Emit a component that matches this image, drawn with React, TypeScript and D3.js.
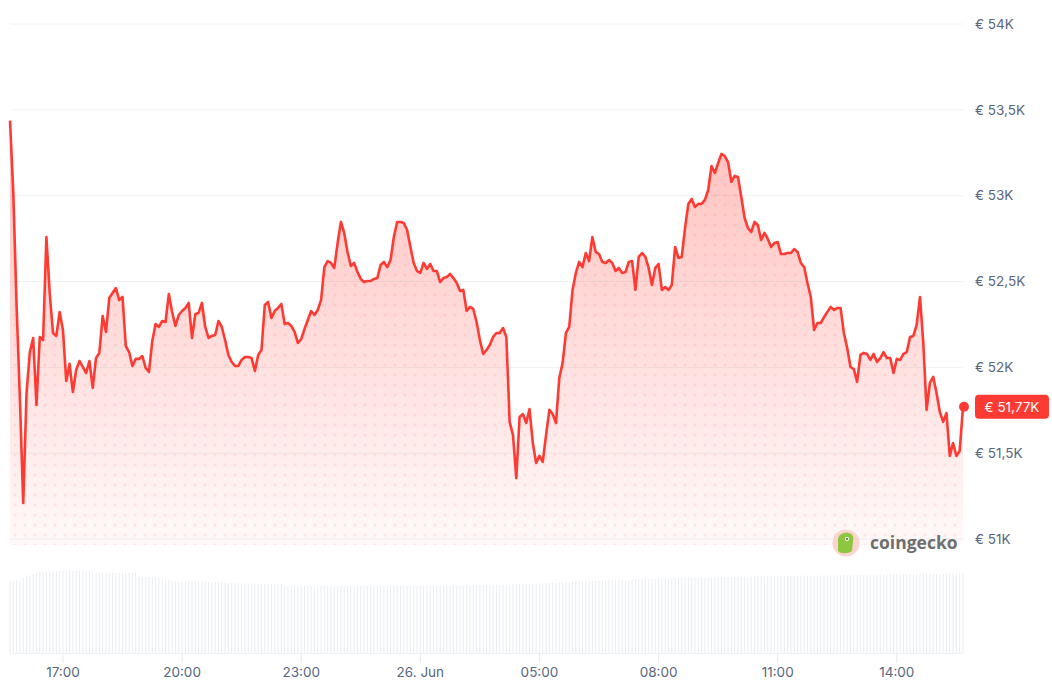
import * as d3 from "d3";

const W = 1052;
const H = 687;

// 5-minute prices (EUR), 25 Jun 15:40 -> 26 Jun 15:40
const prices = [
  53437, 53016, 52352, 51810, 51210, 51851, 52089, 52171, 51781, 52177, 52159, 52759, 52433, 52200, 52183, 52322,
  52218, 51921, 52020, 51856, 51985, 52037, 52002, 51967, 52037, 51880, 52054, 52084, 52299, 52206, 52404, 52433,
  52462, 52392, 52410, 52124, 52089, 52008, 52049, 52049, 52066, 51996, 51973, 52153, 52252, 52235, 52270,
  52264, 52427, 52322, 52241, 52305, 52328, 52346, 52375, 52171, 52311, 52317, 52375, 52235, 52171, 52183, 52188,
  52270, 52235, 52159, 52072, 52031, 52008, 52008, 52043, 52060, 52060, 52054, 51979, 52072, 52101, 52363, 52381,
  52287, 52328, 52346, 52369, 52252, 52258, 52241, 52206, 52142, 52165, 52223, 52276, 52328, 52305, 52334, 52392, 52584,
  52619, 52608, 52579, 52724, 52847, 52783, 52672, 52590, 52608, 52555, 52515, 52497, 52503, 52503, 52515, 52520,
  52596, 52614, 52584, 52625, 52759, 52847, 52847, 52841, 52800, 52701, 52608, 52561, 52550, 52608, 52573, 52602,
  52561, 52561, 52497, 52520, 52526, 52544, 52520, 52491, 52445, 52451, 52328, 52352, 52340, 52264, 52159, 52078,
  52101, 52130, 52177, 52200, 52200, 52229, 52177, 51682, 51606, 51355, 51711, 51728, 51676, 51757, 51559, 51443,
  51484, 51449, 51606, 51752, 51728, 51676, 51938, 52025, 52200, 52235, 52451, 52550, 52614, 52584, 52666, 52619,
  52759, 52672, 52660, 52614, 52608, 52625, 52608, 52561, 52579, 52550, 52555, 52614, 52619, 52451, 52643, 52666,
  52643, 52579, 52480, 52579, 52602, 52451, 52468, 52451, 52480, 52701, 52637, 52643, 52812, 52952, 52981, 52934,
  52952, 52952, 52975, 53033, 53173, 53132, 53190, 53243, 53231, 53196, 53080, 53115, 53109, 52992, 52870, 52812,
  52788, 52847, 52829, 52742, 52783, 52748, 52701, 52724, 52730, 52660, 52660, 52666, 52666, 52689, 52672,
  52608, 52584, 52491, 52410, 52218, 52258, 52258, 52293, 52322, 52352, 52334, 52346, 52346, 52200, 52113, 52002,
  51990, 51915, 52072, 52084, 52078, 52043, 52078, 52031, 52054, 52089, 52054, 52054, 51967, 52049, 52043, 52078,
  52089, 52177, 52183, 52247, 52410, 52142, 51752, 51909, 51944, 51851, 51740, 51682, 51734, 51484, 51559, 51484,
  51513, 51770,
];

// 24h volume (EUR bn) per 5-minute step
const volumes = [
  25.5, 25.5, 25.6, 25.6, 26.4, 27.0, 27.5, 28.0, 28.3, 28.5, 28.7, 28.8, 28.9, 29.0, 29.0, 29.0, 29.1, 29.0, 29.1, 29.0,
  29.0, 29.1, 29.0, 28.9, 29.0, 28.9, 28.4, 28.3, 28.4, 28.3, 28.3, 28.4, 28.3, 28.2, 28.3, 28.3, 28.4, 28.3, 28.2, 27.0,
  26.9, 26.8, 26.8, 26.7, 26.7, 26.5, 26.3, 26.0, 25.7, 25.4, 25.3, 25.1, 25.1, 25.2, 25.1, 25.1, 25.0, 25.1, 25.1, 25.2,
  25.1, 25.1, 25.0, 25.1, 25.1, 25.0, 24.7, 24.7, 24.6, 24.7, 24.6, 24.6, 24.5, 24.6, 24.5, 24.5, 24.4, 24.5, 24.4, 24.4,
  24.4, 24.3, 24.4, 23.7, 23.7, 23.6, 23.7, 23.6, 23.6, 23.7, 23.6, 23.6, 23.5, 23.6, 23.6, 23.5, 23.6, 23.6, 23.5, 23.6,
  23.6, 23.5, 23.6, 23.6, 23.5, 23.6, 23.6, 23.5, 23.6, 23.6, 23.5, 23.6, 23.6, 23.5, 23.6, 23.6, 23.7, 23.6, 23.7, 23.7,
  23.7, 23.6, 23.7, 23.7, 23.6, 23.7, 23.7, 23.7, 23.6, 23.7, 23.7, 23.8, 23.7, 23.7, 23.8, 23.8, 23.7, 23.8, 23.8, 23.8,
  23.9, 23.9, 24.0, 23.9, 24.0, 24.0, 24.1, 24.0, 24.1, 24.2, 24.2, 24.1, 24.2, 24.3, 24.3, 24.3, 24.4, 24.4, 24.5, 24.5,
  24.6, 24.6, 24.7, 24.7, 24.8, 24.8, 24.9, 24.9, 25.0, 25.0, 25.1, 25.1, 25.2, 25.2, 25.3, 25.3, 25.4, 25.4, 25.5, 25.5,
  25.6, 25.6, 25.7, 25.7, 25.8, 25.8, 25.9, 25.9, 26.0, 26.0, 26.1, 26.1, 26.1, 26.2, 26.2, 26.2, 26.3, 26.3, 26.3, 26.4,
  26.4, 26.4, 26.5, 26.5, 26.5, 26.6, 26.6, 26.6, 26.6, 26.7, 26.7, 26.7, 26.7, 26.8, 26.8, 26.8, 26.8, 26.9, 26.9, 26.9,
  26.9, 27.0, 27.0, 27.0, 27.0, 27.1, 27.0, 27.1, 27.1, 27.1, 27.1, 27.2, 27.1, 27.2, 27.2, 27.2, 27.2, 27.3, 27.2, 27.3,
  27.3, 27.3, 27.3, 27.4, 27.3, 27.4, 27.4, 27.4, 27.4, 27.5, 27.4, 27.5, 27.5, 27.5, 27.5, 27.5, 27.6, 27.5, 27.6, 27.6,
  27.6, 27.6, 27.6, 27.7, 27.6, 27.7, 27.7, 27.7, 27.7, 27.7, 27.8, 27.7, 27.8, 27.8, 27.8, 27.8, 27.8, 27.9, 27.8, 27.9,
  27.9, 27.9, 27.9, 28.0, 27.9, 28.0, 28.0, 28.0, 28.0,
];

const yTicks = [51000, 51500, 52000, 52500, 53000, 53500, 54000];
const yTickLabels = ["€ 51K", "€ 51,5K", "€ 52K", "€ 52,5K", "€ 53K", "€ 53,5K", "€ 54K"];

const xTicks = [
  new Date(2024, 5, 25, 17), new Date(2024, 5, 25, 20), new Date(2024, 5, 25, 23),
  new Date(2024, 5, 26, 2), new Date(2024, 5, 26, 5), new Date(2024, 5, 26, 8),
  new Date(2024, 5, 26, 11), new Date(2024, 5, 26, 14),
];
const xTickLabels = ["17:00", "20:00", "23:00", "26. Jun", "05:00", "08:00", "11:00", "14:00"];

const currentLabel = "€ 51,77K";

const START = new Date(2024, 5, 25, 15, 40).getTime();
const STEP = 5 * 60 * 1000;

const RED = "#ff3a33";
const AXIS_TEXT = "#58667e";
const GRID = "#eff2f5";
const FONT = "Inter, 'Noto Sans', sans-serif";

export default function App() {
  const data = prices.map((p, i) => ({ t: new Date(START + i * STEP), p, v: volumes[i] ?? 0 }));

  const x = d3
    .scaleTime()
    .domain([data[0].t, data[data.length - 1].t])
    .range([10, 963]);
  const y = d3.scaleLinear().domain([51000, 54000]).range([539, 24]);
  const yVol = d3.scaleLinear().domain([0, 30]).range([653, 568]);

  const plotBottom = 545;

  const line = d3
    .line<(typeof data)[number]>()
    .x((d) => x(d.t))
    .y((d) => y(d.p));
  const area = d3
    .area<(typeof data)[number]>()
    .x((d) => x(d.t))
    .y0(plotBottom)
    .y1((d) => y(d.p));

  const last = data[data.length - 1];
  const lx = x(last.t);
  const ly = y(last.p);

  return (
    <div style={{ position: "absolute", left: 0, top: 0 }}>
      <svg width={W} height={H} style={{ display: "block", background: "#fff" }} fontFamily={FONT}>
        <defs>
          <linearGradient id="fillGrad" gradientUnits="userSpaceOnUse" x1="0" y1="150" x2="0" y2={plotBottom}>
            <stop offset="0" stopColor={RED} stopOpacity={0.3} />
            <stop offset="1" stopColor={RED} stopOpacity={0.03} />
          </linearGradient>
          <pattern id="dots" width="10" height="10" patternUnits="userSpaceOnUse" x="0" y="0">
            <circle cx="5" cy="5" r="1.5" fill={RED} fillOpacity={0.1} />
          </pattern>
        </defs>

        {/* grid */}
        {yTicks.map((t) => (
          <line key={t} x1={10} x2={963} y1={y(t)} y2={y(t)} stroke={GRID} strokeWidth={1} />
        ))}

        {/* area */}
        <path d={area(data) ?? ""} fill="url(#fillGrad)" />
        <path d={area(data) ?? ""} fill="url(#dots)" />
        <path d={line(data) ?? ""} fill="none" stroke={RED} strokeWidth={2.6} strokeLinejoin="round" />

        {/* y labels */}
        {yTicks.map((t, i) => (
          <text key={t} x={975} y={y(t)} dy="0.35em" fontSize={13.5} fill={AXIS_TEXT}>
            {yTickLabels[i]}
          </text>
        ))}

        {/* volume */}
        {data.map((d, i) => (
          <line
            key={i}
            x1={x(d.t)}
            x2={x(d.t)}
            y1={yVol(0)}
            y2={yVol(d.v)}
            stroke="#e9edf2"
            strokeWidth={1}
          />
        ))}
        <line x1={10} x2={963} y1={653.5} y2={653.5} stroke="#eef1f5" strokeWidth={1} />

        {/* x axis */}
        {xTicks.map((t, i) => (
          <g key={i} transform={`translate(${x(t)},0)`}>
            <line y1={654} y2={663} stroke="#e6e9ee" strokeWidth={1} />
            <text y={677} textAnchor="middle" fontSize={13.5} fill={AXIS_TEXT}>
              {xTickLabels[i]}
            </text>
          </g>
        ))}

        {/* current price */}
        <circle cx={lx + 1} cy={ly} r={5} fill={RED} />
        <rect x={975} y={ly - 12} width={74} height={24} rx={4} fill={RED} />
        <text x={1012} y={ly} dy="0.35em" textAnchor="middle" fontSize={13.5} fill="#fff">
          {currentLabel}
        </text>

        {/* watermark */}
        <g transform="translate(846,543)">
          <circle r={13.5} fill="#fbd3cf" />
          <path d="M-8,-3 C-8,-9 -2,-11 3,-10 C7,-9 8,-6 7,-2 L6,8 C2,11 -5,11 -8,8 Z" fill="#8dc63f" />
          <circle cx={1} cy={-4} r={2} fill="#fff" />
          <circle cx={1} cy={-4} r={1} fill="#4b4b4b" />
        </g>
        <text x={870} y={549} fontSize={17.5} fontWeight={700} fill="#6f6f6f" fontFamily="'Open Sans', sans-serif">
          coingecko
        </text>
      </svg>
    </div>
  );
}
